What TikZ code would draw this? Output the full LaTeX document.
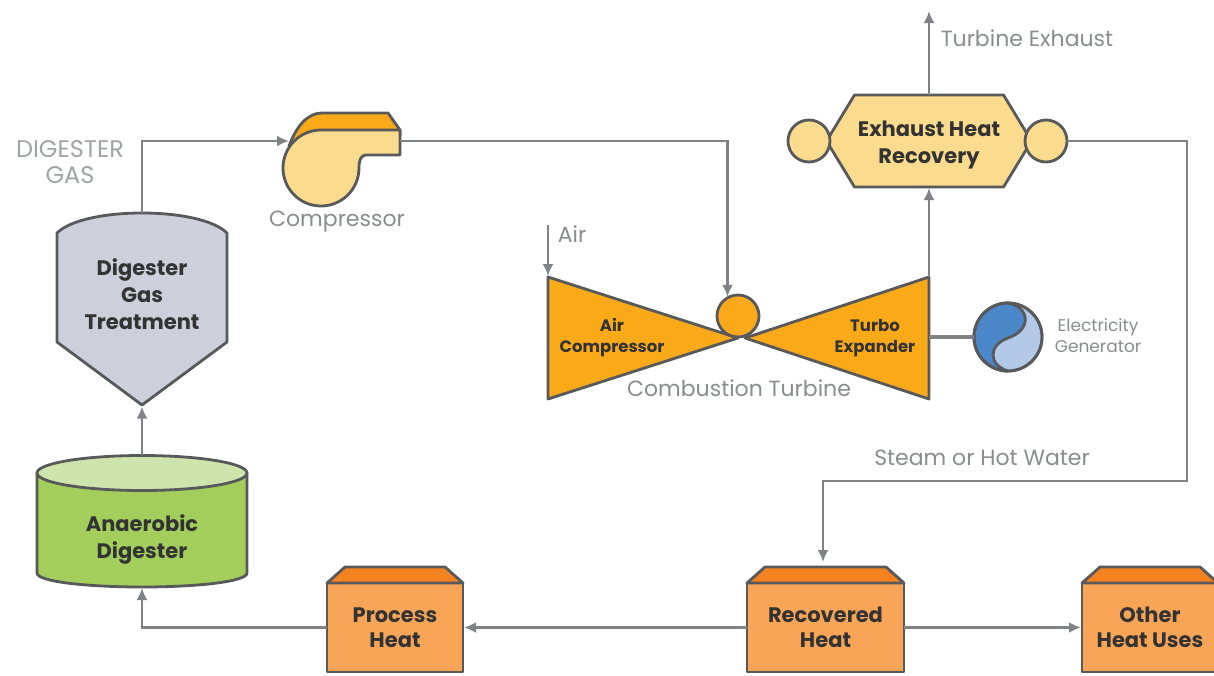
\documentclass[tikz,border=0pt]{standalone}
\usepackage{fontspec}
\setmainfont{Poppins}
\usetikzlibrary{arrows.meta, calc}

\definecolor{linegray}{HTML}{808285}
\definecolor{edgegray}{HTML}{58595B}
\definecolor{labelgray}{HTML}{8A8C8E}
\definecolor{textdark}{HTML}{333333}
\definecolor{boxorange}{HTML}{F9A557}
\definecolor{lidorange}{HTML}{F58220}
\definecolor{tankgreen}{HTML}{A3CE5C}
\definecolor{tanktop}{HTML}{CFE4AC}
\definecolor{treatgray}{HTML}{CDCFDB}
\definecolor{paleyellow}{HTML}{FBDC8E}
\definecolor{turbineorange}{HTML}{FAA919}
\definecolor{genblue}{HTML}{4C88C9}
\definecolor{genpale}{HTML}{B4C9E7}

\begin{document}
\begin{tikzpicture}[x=1pt, y=1pt,
          outline/.style={line width=2.8pt, draw=edgegray, line join=round},
          anchorbox/.style={rectangle, minimum width=#1, inner sep=0pt, outer sep=0pt},
          roundnode/.style={circle, minimum size=#1, inner sep=0pt, outer sep=0pt},
          heatbox/.style={rectangle, outline, fill=boxorange, minimum width=#1, minimum height=89pt, inner sep=0pt, outer sep=0pt, align=center, text=textdark, font=\fontsize{21}{27}\selectfont\bfseries},
          boldlabel/.style={align=center, text=textdark, font=\fontsize{21}{27}\selectfont\bfseries},
          smallbold/.style={align=center, text=textdark, font=\fontsize{16.5}{21}\selectfont\bfseries},
          plainlabel/.style={align=center, text=labelgray, font=\fontsize{22}{26}\selectfont},
          arrow/.style={-{Latex[length=12pt, width=11pt]}, line width=2.6pt, color=linegray, shorten >=1pt},
          shaft/.style={line width=4pt, color=linegray}]
        \useasboundingbox (0,0) rectangle (1214,-675);

        % digester and gas treatment
        \node [anchorbox=210pt, minimum height=132pt] (tank) at (142,-521) {};
        \draw [outline, fill=tankgreen] (37,-473) -- (37,-573) .. controls (37,-582) and (90,-587) .. (142,-587) .. controls (194,-587) and (247,-582) .. (247,-573) -- (247,-473) -- cycle;
        \draw [outline, fill=tanktop] (142,-473) ellipse [x radius=105, y radius=17.5];
        \node [boldlabel] (tanklabel) at (142,-539) {Anaerobic\\Digester};

        \node [anchorbox=171pt, minimum height=193pt] (treat) at (142,-309) {};
        \draw [outline, fill=treatgray] (57,-233) .. controls (70,-220) and (105,-213) .. (142,-213) .. controls (179,-213) and (214,-220) .. (227,-233) -- (227,-342) -- (142,-405) -- (57,-342) -- cycle;
        \node [boldlabel] (treatlabel) at (142,-294) {Digester\\Gas\\Treatment};

        % compressor
        \node [roundnode=76pt] (comp) at (321,-168) {};
        \coordinate (compin) at (290,-141);
        \coordinate (compout) at (400,-141);
        \draw [outline, fill=turbineorange] (289,-146) .. controls (297,-125) and (308,-113) .. (322,-113) -- (388,-113) -- (400,-130) -- (400,-136) -- cycle;
        \draw [outline, fill=paleyellow] (400,-130) -- (400,-155) -- (366,-155) .. controls (361,-155) and (359,-160) .. (359,-168) arc [start angle=0, end angle=-270, radius=38] -- cycle;

        % combustion turbine
        \coordinate (aircorner) at (548,-277);
        \coordinate (airin) at (548,-225);
        \coordinate (turbotop) at (929,-277);
        \coordinate (turboedge) at (929,-337);
        \draw [outline, fill=turbineorange] (aircorner) -- (548,-399) -- (738,-338) -- cycle;
        \draw [outline, fill=turbineorange] (turbotop) -- (929,-399) -- (745,-338) -- cycle;
        \node [roundnode=42pt, outline, fill=turbineorange] (burner) at (738,-316) {};
        \node [smallbold] (aircomp) at (612,-338) {Air\\Compressor};
        \node [smallbold] (turbo) at (875,-338) {Turbo\\Expander};

        % generator
        \node [roundnode=68pt, outline, fill=genpale] (gen) at (1008,-337) {};
        \draw [outline, fill=genblue] (1008,-303) .. controls (990,-303) and (974,-318) .. (974,-337) .. controls (974,-356) and (990,-371) .. (1008,-371) .. controls (988,-365) and (988,-345) .. (1008,-338) .. controls (1032,-330) and (1030,-307) .. (1008,-303) -- cycle;
        \draw [outline] (gen) circle [radius=34];

        % exhaust heat recovery
        \node [anchorbox=205pt, minimum height=92pt] (exhaust) at (929,-141) {};
        \draw [outline, fill=paleyellow] (exhaust.west) -- ($(exhaust.north west)+(28,0)$) -- ($(exhaust.north east)+(-28,0)$) -- (exhaust.east) -- ($(exhaust.south east)+(-28,0)$) -- ($(exhaust.south west)+(28,0)$) -- cycle;
        \node [roundnode=42pt, outline, fill=paleyellow] (hxin) at (809,-141) {};
        \node [roundnode=42pt, outline, fill=paleyellow] (hxout) at (1046,-141) {};
        \node [boldlabel] (exhaustlabel) at (929,-145) {Exhaust Heat\\Recovery};
        \coordinate (exhaustout) at (929,-10);

        % heat users
        \node [heatbox=136pt] (process) at (395,-627.5) {\raisebox{-2pt}{Process}\\Heat};
        \node [heatbox=157pt] (recovered) at (825.5,-627.5) {\raisebox{-2pt}{Recovered}\\Heat};
        \node [heatbox=136pt] (other) at (1150,-627.5) {\raisebox{-2pt}{Other}\\Heat Uses};
        \foreach \boxname in {process, recovered, other} {
          \draw [outline, fill=lidorange] (\boxname.north west) -- ++(18,16) -- ($(\boxname.north east)+(-18,16)$) -- (\boxname.north east) -- cycle;
        }
        \coordinate (steamcorner) at (1187,-481);
        \coordinate (recoveredin) at (823,-563);

        % connectors
        \draw [arrow] (process.west) -| (tank.south);
        \draw [arrow] (tank.north) -- (treat.south);
        \draw [arrow] (treat.north) |- (compin);
        \draw [arrow] (compout) -| (burner.120);
        \draw [arrow] (airin) -- (aircorner);
        \draw [arrow] (turbotop) -- (exhaust.south);
        \draw [arrow] (exhaust.north) -- (exhaustout);
        \draw [shaft] (turboedge) -- (gen.west);
        \draw [arrow] (hxout.east) -| (steamcorner) -| (recoveredin);
        \draw [arrow] (recovered.west) -- (process.east);
        \draw [arrow] (recovered.east) -- (other.west);

        % plain labels
        \node [plainlabel, text=labelgray!80, font=\fontsize{24}{26}\selectfont] (gaslabel) at (70,-162) {DIGESTER\\GAS};
        \node [plainlabel] (complabel) at (337,-222) {Compressor};
        \node [plainlabel] (airlabel) at (572,-234) {Air};
        \node [plainlabel] (turbinelabel) at (739,-388) {Combustion Turbine};
        \node [plainlabel] (exhaustoutlabel) at (1027,-38) {Turbine Exhaust};
        \node [plainlabel] (steamlabel) at (982,-458) {Steam or Hot Water};
        \node [plainlabel, font=\fontsize{17}{21}\selectfont] (genlabel) at (1098,-336) {Electricity\\Generator};
      \end{tikzpicture}
\end{document}
